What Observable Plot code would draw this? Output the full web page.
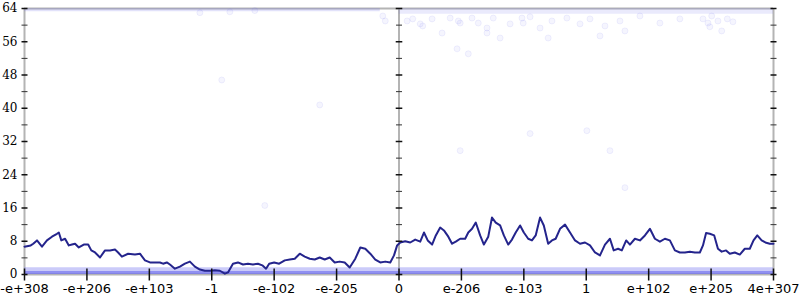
<!DOCTYPE html>
<html>
<head>
<meta charset="utf-8">
<script src="https://cdn.jsdelivr.net/npm/d3@7"></script>
<script src="https://cdn.jsdelivr.net/npm/@observablehq/plot@0.6"></script>
<style>
  html, body { margin: 0; padding: 0; background: #fff; }
  #chart svg { display: block; }
</style>
</head>
<body>
<div id="chart"></div>
<script>
// ---- data ----
const xTickPos = [-6, -5, -4, -3, -2, -1, 0, 1, 2, 3, 4, 5, 6];
const xTickLabels = ["-e+308", "-e+206", "-e+103", "-1", "-e-102", "-e-205", "0",
                     "e-206", "e-103", "1", "e+102", "e+205", "4e+307"];
const axisPos = [-6, 0, 6];
const yMajor = [0, 8, 16, 24, 32, 40, 48, 56, 64];
const yMinor = [4, 12, 20, 28, 36, 44, 52, 60];

const lineX = [-6.00,-5.90,-5.86,-5.80,-5.72,-5.64,-5.56,-5.48,-5.45,-5.41,-5.35,-5.29,-5.24,-5.19,-5.13,-5.05,-4.98,-4.93,-4.87,-4.79,-4.71,-4.63,-4.55,-4.50,-4.44,-4.34,-4.23,-4.15,-4.07,-3.99,-3.91,-3.83,-3.78,-3.72,-3.67,-3.59,-3.51,-3.43,-3.35,-3.27,-3.19,-3.11,-3.03,-2.95,-2.87,-2.79,-2.74,-2.66,-2.58,-2.50,-2.42,-2.34,-2.26,-2.19,-2.13,-2.08,-2.00,-1.92,-1.83,-1.75,-1.67,-1.59,-1.51,-1.43,-1.35,-1.27,-1.19,-1.11,-1.03,-0.95,-0.87,-0.79,-0.70,-0.62,-0.54,-0.46,-0.38,-0.30,-0.22,-0.14,-0.08,-0.03,
  0.02,0.10,0.18,0.26,0.34,0.40,0.46,0.53,0.59,0.66,0.72,0.79,0.85,0.91,0.98,1.06,1.11,1.17,1.23,1.30,1.36,1.43,1.49,1.55,1.62,1.68,1.75,1.81,1.87,1.94,2.00,2.07,2.13,2.19,2.26,2.32,2.39,2.45,2.51,2.58,2.66,2.74,2.82,2.90,2.98,3.06,3.14,3.22,3.30,3.38,3.44,3.51,3.57,3.64,3.70,3.78,3.86,3.94,4.02,4.10,4.18,4.26,4.34,4.42,4.50,4.58,4.66,4.74,4.82,4.87,4.92,4.98,5.05,5.11,5.17,5.24,5.30,5.38,5.46,5.54,5.62,5.68,5.74,5.81,5.87,5.94,6.00];
const lineY = [6.7,7.0,7.4,8.2,6.7,8.2,9.1,9.8,10.1,8.2,8.6,7.0,7.2,7.4,6.5,7.2,7.2,5.8,5.3,4.1,5.8,5.8,6.0,5.3,4.3,5.0,4.8,5.0,3.4,2.9,2.9,2.9,2.6,2.9,2.4,1.4,1.9,2.6,3.1,1.9,1.2,0.9,0.9,1.0,0.9,0.2,0.5,2.6,2.9,2.4,2.6,2.4,2.6,2.2,1.4,2.6,2.9,2.6,3.4,3.6,3.8,5.0,4.3,3.8,3.6,4.1,3.6,4.1,2.9,3.1,2.9,1.7,3.8,6.5,6.2,5.0,3.6,2.9,3.1,2.9,4.6,7.0,
  7.7,8.0,7.7,8.4,7.9,10.1,8.2,7.2,9.4,11.3,10.6,9.1,7.4,7.9,8.6,8.6,10.1,11.0,12.5,9.4,7.2,9.1,13.7,12.5,11.8,9.4,7.2,8.4,10.1,11.8,10.1,8.6,8.2,9.4,13.7,11.8,7.4,8.2,8.6,11.0,12.0,10.1,8.2,7.4,7.7,7.0,5.3,4.6,7.2,8.6,5.8,6.2,5.8,8.2,7.2,8.6,8.2,9.4,11.0,8.6,7.9,8.6,8.2,5.8,5.3,5.3,5.5,5.3,5.3,7.0,10.0,9.8,9.4,6.2,5.5,5.8,5.0,5.3,4.8,6.2,6.2,8.2,9.4,8.2,7.7,7.4,7.4];

// faint scattered samples
const dotX = [0.13,0.22,0.34,0.53,0.69,0.82,0.95,1.17,1.27,1.41,1.51,1.62,1.78,1.97,1.99,0.38,0.98,1.41,2.26,2.39,2.69,0.93,1.11,
  4.87,4.95,5.01,5.11,4.98,5.17,5.26,5.35,3.06,3.30,3.54,3.86,4.18,4.50,3.22,3.62,2.90,2.45,2.10,-0.22,-0.26,
  -3.19,-2.71,-2.31,-2.84,-1.27,-2.15,0.98,2.10,3.01,3.38,3.62];
const dotY = [61.0,61.5,60.3,61.5,58.1,61.7,61.0,61.7,60.5,59.3,61.7,56.9,60.3,61.7,60.5,59.8,60.5,58.1,59.3,56.9,61.7,54.3,53.1,
  61.5,60.5,62.2,61.0,59.6,58.6,61.5,60.8,61.5,59.8,61.0,62.2,60.5,61.5,57.4,58.6,60.3,61.0,62.0,61.0,62.2,
  63.0,63.2,63.5,46.8,40.8,16.6,29.8,33.9,34.6,29.8,20.9];

// dense bands of samples at the extremes
const bandX = [-6, 6];
const lowBandTop = [1.65, 1.65];
const lowBandCore = [0.75, 0.75];
const topBandLeftX = [-6, -0.3];
const topBandRightX = [0, 6];

// ---- helpers ----
const hTick = { draw(ctx, size) { const l = Math.sqrt(size / Math.PI); ctx.moveTo(-l, 0); ctx.lineTo(l, 0); } };
const vTick = { draw(ctx, size) { const l = Math.sqrt(size / Math.PI); ctx.moveTo(0, -l); ctx.lineTo(0, l); } };

const lineData = lineX.map((x, i) => ({ x, y: lineY[i] }));
const dotData = dotX.map((x, i) => ({ x, y: dotY[i] }));
const lowBand = bandX.map((x, i) => ({ x, top: lowBandTop[i], core: lowBandCore[i] }));
const majorTicks = axisPos.flatMap(a => yMajor.map(y => ({ a, y })));
const minorTicks = axisPos.flatMap(a => yMinor.map(y => ({ a, y })));
const xLabels = xTickPos.map((x, i) => ({ x, label: xTickLabels[i] }));

const chart = Plot.plot({
  width: 800,
  height: 300,
  marginLeft: 24,
  marginRight: 27,
  marginTop: 8,
  marginBottom: 26,
  x: { domain: [-6, 6], axis: null },
  y: { domain: [0, 64], axis: null },
  style: { background: "#fff", overflow: "visible" },
  marks: [
    // axis lines
    Plot.ruleX(axisPos, { stroke: "#b4b4b4", strokeWidth: 2 }),
    Plot.ruleY([64, 0], { stroke: "#b4b4b4", strokeWidth: 2 }),
    // bands
    Plot.areaY(lowBand, { x: "x", y1: 0, y2: "top", fill: "#6a6aee", fillOpacity: 0.35 }),
    Plot.areaY(lowBand, { x: "x", y1: 0, y2: "core", fill: "#4a4ae6", fillOpacity: 0.45 }),
    Plot.areaY(topBandLeftX.map(x => ({ x })), { x: "x", y1: 63.2, y2: 64, fill: "#7070e8", fillOpacity: 0.2 }),
    Plot.areaY(topBandRightX.map(x => ({ x })), { x: "x", y1: 62.6, y2: 64, fill: "#7070e8", fillOpacity: 0.15 }),
    // faint samples
    Plot.dot(dotData, { x: "x", y: "y", r: 3, fill: "#7878f0", fillOpacity: 0.07, stroke: "#7878f0", strokeOpacity: 0.1, strokeWidth: 1 }),
    // main line
    Plot.line(lineData, { x: "x", y: "y", stroke: "#24248c", strokeWidth: 2, strokeLinejoin: "round" }),
    // y ticks on the three vertical axes
    Plot.dot(majorTicks, { x: "a", y: "y", symbol: hTick, r: d => d.a === 0 ? 6 : 5, fill: "none", stroke: "#111", strokeWidth: 1.5 }),
    Plot.dot(minorTicks, { x: "a", y: "y", symbol: hTick, r: 3, fill: "none", stroke: "#333", strokeWidth: 1 }),
    // x ticks
    Plot.dot(xTickPos, { x: d => d, y: 0, symbol: vTick, r: 6, fill: "none", stroke: "#111", strokeWidth: 1.5 }),
    // y labels
    Plot.text(yMajor, { x: -6, y: d => d, text: d => String(d), textAnchor: "end", dx: -7, fontFamily: "DejaVu Serif", fontSize: 12, fill: "#000" }),
    // x labels
    Plot.text(xLabels, { x: "x", y: 0, text: "label", lineAnchor: "top", dy: 9, fontFamily: "DejaVu Sans", fontSize: 13, fill: "#000" })
  ]
});
document.getElementById("chart").appendChild(chart);
</script>
</body>
</html>
